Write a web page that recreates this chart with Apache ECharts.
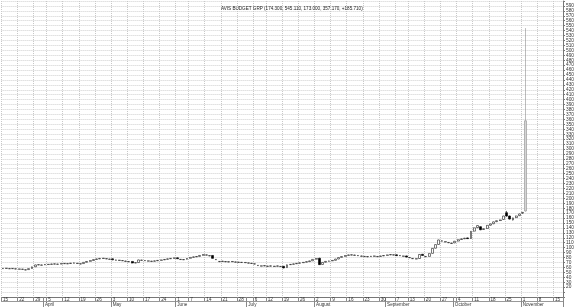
<!DOCTYPE html>
<html><head><meta charset="utf-8">
<script src="https://cdn.jsdelivr.net/npm/echarts@6/dist/echarts.min.js"></script>
<style>html,body{margin:0;padding:0;background:#fff}#c{width:580px;height:307px}</style>
</head><body><div id="c"></div>
<script>
const titleText = 'AVIS BUDGET GRP (174.300, 545.110, 173.000, 357.170, +185.710)';
const year = 2021;
const tradingDays = {
  3: [15,16,17,18,19,22,23,24,25,26,29,30,31],
  4: [1,5,6,7,8,9,12,13,14,15,16,19,20,21,22,23,26,27,28,29,30],
  5: [3,4,5,6,7,10,11,12,13,14,17,18,19,20,21,24,25,26,27,28],
  6: [1,2,3,4,7,8,9,10,11,14,15,16,17,18,21,22,23,24,25,28,29,30],
  7: [1,2,6,7,8,9,12,13,14,15,16,19,20,21,22,23,26,27,28,29,30],
  8: [2,3,4,5,6,9,10,11,12,13,16,17,18,19,20,23,24,25,26,27,30,31],
  9: [1,2,3,7,8,9,10,13,14,15,16,17,20,21,22,23,24,27,28,29,30],
  10: [1,4,5,6,7,8,11,12,13,14,15,18,19,20,21,22,25,26,27,28,29],
  11: [1,2,3,4,5,8,9,10,11,12,15,16,17]
};
const monthNames = {4:'April',5:'May',6:'June',7:'July',8:'August',9:'September',10:'October',11:'November'};

const openV = [57.5,57.9,57.2,57.4,56.8,56.3,56.0,54.8,55.6,57.8,
61.2,65.0,64.4,65.2,65.8,66.2,66.7,66.3,66.9,67.5,
67.2,67.9,68.5,67.9,66.9,67.8,70.4,72.3,74.0,76.2,
77.3,78.0,77.2,76.3,77.4,74.5,74.1,73.4,72.2,71.3,
72.1,69.0,69.8,74.3,73.5,72.7,72.1,72.6,73.5,74.4,
75.4,76.5,77.6,78.4,79.4,75.9,75.4,76.5,78.4,80.5,
81.4,82.3,84.4,84.8,83.3,84.2,75.6,71.5,72.0,71.3,
71.0,71.4,70.5,70.1,69.9,69.5,68.6,67.9,66.8,63.6,
62.6,63.0,62.0,62.5,61.9,62.4,61.6,62.3,59.6,65.5,
66.4,67.4,68.5,69.5,70.6,71.8,73.4,76.5,78.6,66.0,
70.5,72.4,73.3,74.4,77.1,80.3,82.3,84.4,85.0,84.4,
83.6,82.5,81.8,81.4,82.0,82.5,81.6,82.3,83.4,84.4,
85.4,85.0,85.6,83.6,82.5,83.3,79.5,77.6,77.0,78.0,
86.6,81.6,82.3,88.5,99.0,106.5,113.2,111.5,110.0,108.5,
109.8,113.4,116.6,118.1,119.8,118.6,133.5,140.6,142.5,136.8,
138.9,145.6,148.6,152.8,155.0,157.2,171.0,164.2,156.2,161.0,
165.0,170.0,174.3];
const closeV = [58.0,58.3,57.6,57.9,57.2,56.8,56.5,55.2,57.5,61.0,
65.0,65.6,64.9,66.0,66.3,66.8,67.2,66.7,67.6,68.1,
67.7,68.6,69.1,68.4,67.4,70.2,72.0,73.8,75.9,77.1,
78.2,78.6,77.8,76.9,75.3,75.0,74.6,73.9,72.8,71.9,
68.9,69.6,75.1,74.8,74.0,73.2,72.6,73.1,74.2,75.0,
76.1,77.2,78.3,79.1,77.6,76.4,76.0,78.1,80.2,81.3,
82.1,84.2,86.1,85.4,83.9,78.3,76.2,72.1,72.6,71.9,
71.6,72.0,71.1,70.6,70.4,70.0,69.1,68.4,67.3,64.2,
63.1,63.6,62.6,63.1,62.4,63.0,62.1,58.9,65.2,66.1,
67.0,68.2,69.1,70.2,71.6,73.1,76.2,78.1,65.6,70.1,
72.2,73.0,74.1,76.8,79.9,82.0,84.1,85.2,85.6,85.0,
84.2,83.1,82.4,82.0,82.6,83.1,82.2,83.0,84.1,85.2,
86.1,85.6,83.8,84.2,83.1,80.9,80.1,78.2,77.6,86.2,
84.1,82.2,88.0,98.6,106.2,115.6,113.9,112.2,110.6,109.2,
113.0,116.2,117.8,119.2,118.3,133.1,140.2,144.8,136.3,138.4,
145.2,148.1,152.3,154.6,156.2,164.1,164.0,158.0,160.2,164.2,
168.3,171.46,357.17];
const lowV = [57.0,57.4,56.8,57.0,56.3,55.9,55.5,54.3,55.2,57.4,
60.8,64.5,64.0,64.8,65.3,65.8,66.2,65.9,66.5,67.0,
66.8,67.4,68.0,67.5,66.4,67.4,70.0,71.8,73.5,75.7,
76.8,77.5,76.8,75.9,74.8,74.0,73.6,73.0,71.7,70.8,
68.3,68.5,69.3,73.8,73.0,72.2,71.7,72.1,73.0,73.9,
74.9,76.0,77.1,77.9,77.0,75.4,74.9,76.0,77.9,80.0,
80.9,81.8,83.9,84.3,82.8,77.7,75.1,71.0,71.5,70.8,
70.5,70.9,70.0,69.6,69.4,69.0,68.1,67.4,66.3,63.1,
62.1,62.5,61.5,62.0,61.4,61.9,61.1,58.3,59.1,65.0,
65.9,66.9,68.0,69.0,70.1,71.3,72.9,76.0,65.0,65.5,
70.0,71.9,72.8,73.9,76.6,79.8,81.8,83.9,84.5,83.9,
83.1,82.0,81.3,80.9,81.5,82.0,81.1,81.8,82.9,83.9,
84.9,84.5,83.2,83.1,82.0,80.3,79.0,77.1,76.5,77.5,
83.5,81.1,81.8,88.0,98.4,105.9,112.5,110.8,109.3,107.8,
109.1,112.7,115.9,117.4,117.6,117.9,132.6,139.6,135.4,135.9,
137.9,144.6,147.6,151.8,154.0,156.2,162.8,157.0,155.2,160.0,
164.0,168.5,173.0];
const highV = [58.6,58.9,58.1,58.4,57.7,57.3,57.0,55.8,58.0,61.5,
65.6,66.2,65.4,66.6,66.9,67.3,67.8,67.2,68.2,68.7,
68.3,69.1,69.7,69.0,68.0,70.8,72.6,74.4,76.5,77.7,
78.8,79.2,78.4,77.5,78.0,75.6,75.2,74.5,73.4,72.5,
72.7,70.2,75.7,75.4,74.6,73.8,73.2,73.7,74.8,75.6,
76.7,77.8,78.9,79.7,80.0,77.0,76.6,78.7,80.8,81.9,
82.7,84.8,86.7,86.0,84.5,84.8,76.8,72.7,73.2,72.5,
72.2,72.6,71.7,71.2,71.0,70.6,69.7,69.0,67.9,64.8,
63.7,64.2,63.2,63.7,63.0,63.6,62.7,62.9,65.8,66.7,
67.6,68.8,69.7,70.8,72.2,73.7,76.8,78.7,79.4,70.7,
72.8,73.6,74.7,77.4,80.5,82.6,84.7,85.8,86.2,85.6,
84.8,83.7,83.0,82.6,83.2,83.7,82.8,83.6,84.7,85.8,
86.7,86.2,86.2,84.8,83.7,83.9,80.7,78.8,78.2,86.8,
87.2,82.8,88.6,99.2,106.8,116.2,115.0,112.8,111.2,109.8,
113.6,116.8,118.4,119.8,120.5,133.7,140.8,145.4,143.2,139.0,
145.8,148.7,152.9,155.2,156.8,164.7,174.5,165.0,160.8,164.8,
168.9,172.4,545.11];

// build category list
const cats = [], catMonth = [], catDay = [], catDow = [];
Object.keys(tradingDays).map(Number).sort((a,b)=>a-b).forEach(m => {
  tradingDays[m].forEach(d => {
    cats.push(year + '-' + String(m).padStart(2,'0') + '-' + String(d).padStart(2,'0'));
    catMonth.push(m); catDay.push(d);
    catDow.push(new Date(Date.UTC(year, m-1, d)).getUTCDay());
  });
});
const isWeekStart = i => i === 0 || catDow[i] < catDow[i-1];
const isMonthStart = i => i > 0 && catMonth[i] !== catMonth[i-1];

const candleData = openV.map((o, i) => {
  const v = [o, closeV[i], lowV[i], highV[i]];
  if (i === openV.length - 1) return {value: v, itemStyle: {color: '#d4d4d4', borderColor: '#8f8f8f', color0: '#d4d4d4', borderColor0: '#8f8f8f'}};
  return v;
});

const chart = echarts.init(document.getElementById('c'), null, {renderer: 'canvas'});
const fontFam = 'Liberation Sans, Arial, sans-serif';
chart.setOption({
  animation: false,
  backgroundColor: '#fff',
  title: {text: titleText, left: 216, top: 1,
    textStyle: {fontSize: 4.6, fontWeight: 'normal', color: '#222', fontFamily: fontFam}},
  grid: {left: 0, right: 17, top: 1, bottom: 10, containLabel: false},
  xAxis: [{
    type: 'category', data: cats, position: 'bottom', boundaryGap: true,
    axisLine: {show: true, lineStyle: {color: '#777', width: 1}},
    axisTick: {show: true, interval: (i) => isWeekStart(i) || isMonthStart(i), length: 4, lineStyle: {color: '#888'}},
    axisLabel: {show: true, interval: (i) => isWeekStart(i), formatter: (v, i) => String(catDay[i]),
      fontSize: 4.6, align: 'left', margin: 0, color: '#333', fontFamily: fontFam},
    splitLine: {show: true, interval: (i) => isWeekStart(i), lineStyle: {type: 'dotted', color: '#c8c8c8'}}
  }, {
    type: 'category', data: cats, position: 'bottom', offset: 4, boundaryGap: true,
    axisLine: {show: true, lineStyle: {color: '#999', width: 1}},
    axisTick: {show: true, interval: (i) => isMonthStart(i), length: 6, lineStyle: {color: '#888'}},
    axisLabel: {show: true, interval: (i) => isMonthStart(i), formatter: (v, i) => monthNames[catMonth[i]] || '',
      fontSize: 4.6, align: 'left', margin: 1, color: '#333', fontFamily: fontFam},
    splitLine: {show: false}
  }],
  yAxis: {
    type: 'value', position: 'right', min: 0, max: 600, interval: 10,
    axisLine: {show: true, lineStyle: {color: '#777'}},
    axisTick: {show: true, length: 2, lineStyle: {color: '#777'}},
    axisLabel: {fontSize: 4.8, margin: 3, color: '#333', fontFamily: fontFam,
      formatter: v => (v < 20 || v > 590) ? '' : String(v)},
    splitLine: {show: true, lineStyle: {type: 'dotted', color: '#d0d0d0'}}
  },
  series: [{
    type: 'candlestick', xAxisIndex: 0, data: candleData, barWidth: 2.4,
    itemStyle: {color: '#ffffff', color0: '#000000', borderColor: '#222222', borderColor0: '#000000', borderWidth: 0.6}
  }]
});
</script></body></html>
